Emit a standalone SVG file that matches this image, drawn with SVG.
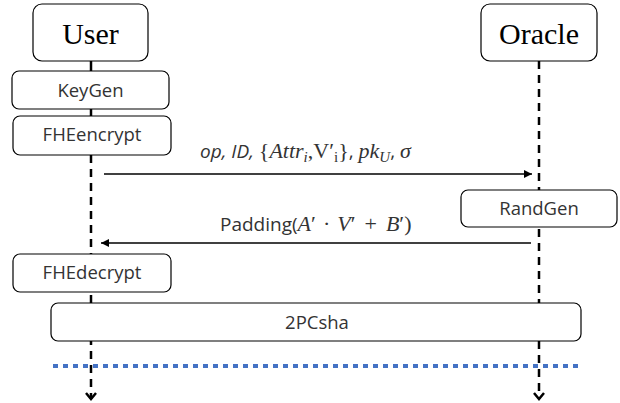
<svg xmlns="http://www.w3.org/2000/svg" width="620" height="403" viewBox="0 0 620 403">
<style>
.box{fill:#fff;stroke:#000;stroke-width:1.2}
.actor{font-family:"Liberation Serif","Times New Roman",serif;font-size:30px;fill:#000;text-anchor:middle}
.lbl{font-family:"Open Sans","Liberation Sans",sans-serif;font-size:18.5px;fill:#333;text-anchor:middle}
.life{stroke:#000;stroke-width:2.5;fill:none}
.dash{stroke-dasharray:8 6}
.msg{stroke:#000;stroke-width:1.5;fill:none}
.mt{font-family:"Open Sans","Liberation Sans",sans-serif;font-size:19px;fill:#333}
.m{font-family:"Liberation Serif","Times New Roman",serif;font-size:22px}
.s{font-family:"Liberation Serif","Times New Roman",serif;font-size:15px}
.i{font-style:italic}
</style>
<defs>
<marker id="ah" viewBox="0 0 10 10" refX="10" refY="5" markerWidth="8" markerHeight="8" markerUnits="userSpaceOnUse" orient="auto">
<path d="M0,0 L10,5 L0,10 z" fill="#000"/>
</marker>
</defs>
<g id="connectors">
<line class="life" x1="91" y1="61" x2="91" y2="71"/>
<line class="life" x1="91" y1="109" x2="91" y2="116"/>
<line class="life dash" x1="91" y1="155" x2="91" y2="399"/>
<polyline class="life" points="86,393 91,399 96,393"/>
<line class="life dash" x1="539" y1="61" x2="539" y2="399"/>
<polyline class="life" points="534,393 539,399 544,393"/>
<line class="msg" x1="104" y1="174" x2="532" y2="174" marker-end="url(#ah)"/>
<line class="msg" x1="531" y1="243" x2="101" y2="243" marker-end="url(#ah)"/>
<text class="mt" x="200" y="158"><tspan class="i">op, ID, </tspan><tspan class="m">{</tspan><tspan class="m i">Attr</tspan><tspan class="s i" dy="4">i</tspan><tspan class="m" dy="-4">,V′</tspan><tspan class="s" dy="4">i</tspan><tspan class="m" dy="-4">}</tspan><tspan>, </tspan><tspan class="m i">pk</tspan><tspan class="s i" dy="4">U</tspan><tspan dy="-4">, </tspan><tspan class="m i">σ</tspan></text>
<text class="mt" x="220" y="231" font-size="20"><tspan>Padding(</tspan><tspan class="m i" font-size="23">A</tspan><tspan class="m" font-size="23">′</tspan><tspan class="m" font-size="23" dx="7">·</tspan><tspan class="m i" font-size="23" dx="7">V</tspan><tspan class="m" font-size="23">′</tspan><tspan class="m" font-size="23" dx="9">+</tspan><tspan class="m i" font-size="23" dx="9">B</tspan><tspan class="m" font-size="23">′)</tspan></text>
<line x1="53" y1="366" x2="581" y2="366" stroke="#4472C4" stroke-width="4" stroke-dasharray="5 5"/>
</g>
<g id="user">
<rect class="box" x="33" y="4" width="115" height="57" rx="9"/>
<text class="actor" x="90.5" y="44">User</text>
</g>
<g id="oracle">
<rect class="box" x="481" y="4" width="116" height="57" rx="9"/>
<text class="actor" x="539" y="44">Oracle</text>
</g>
<g id="keygen">
<rect class="box" x="12" y="71" width="157" height="38" rx="7"/>
<text class="lbl" x="90.5" y="97">KeyGen</text>
</g>
<g id="fheencrypt">
<rect class="box" x="13" y="116" width="158" height="39" rx="7"/>
<text class="lbl" x="92" y="141">FHEencrypt</text>
</g>
<g id="randgen">
<rect class="box" x="461" y="190" width="156" height="37" rx="7"/>
<text class="lbl" x="539" y="215">RandGen</text>
</g>
<g id="fhedecrypt">
<rect class="box" x="13" y="254" width="158" height="38" rx="7"/>
<text class="lbl" x="92" y="279">FHEdecrypt</text>
</g>
<g id="pcsha">
<rect class="box" x="51" y="303" width="530" height="38" rx="7"/>
<text class="lbl" x="317" y="329">2PCsha</text>
</g>
</svg>
